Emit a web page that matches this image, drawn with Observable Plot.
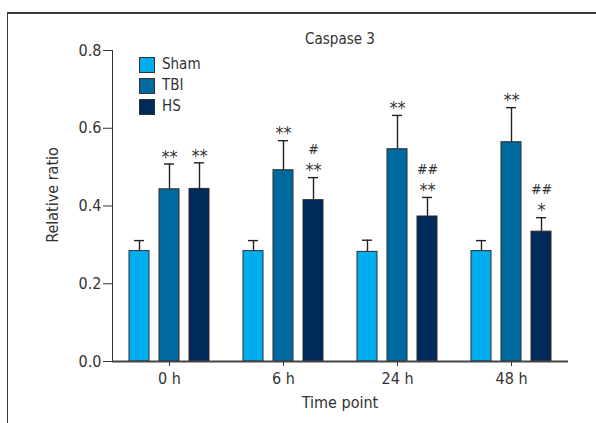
<!DOCTYPE html>
<html><head><meta charset="utf-8">
<script src="https://cdn.jsdelivr.net/npm/d3@7"></script>
<script src="https://cdn.jsdelivr.net/npm/@observablehq/plot@0.6"></script>
<style>
body{margin:0;background:#fff;}
#wrap{position:relative;width:596px;height:423px;overflow:hidden;background:#fff;font-family:"DejaVu Sans Condensed","Liberation Sans Narrow",sans-serif;color:#333;}
#wrap svg{position:absolute;left:0;top:0;}
.frameTop{position:absolute;left:7px;top:12px;width:589px;height:0;border-top:2px solid #3a3a3a;}
.frameLeft{position:absolute;left:7px;top:12px;width:0;height:411px;border-left:1.5px solid #3a3a3a;}
.txt{position:absolute;font-size:15px;line-height:1;white-space:nowrap;color:#333;}
.sw{position:absolute;width:14px;height:14px;border:1px solid #333;}
</style>
</head><body>
<div id="wrap">
  <div class="frameTop"></div>
  <div class="frameLeft"></div>
</div>
<script>
const times = ["0 h", "6 h", "24 h", "48 h"];
const groups = ["Sham", "TBI", "HS"];
const colors = ["#00aeef", "#006a9f", "#002a5a"];

const shamMean = [0.284, 0.284, 0.282, 0.284];
const shamSD   = [0.027, 0.027, 0.030, 0.027];
const tbiMean  = [0.443, 0.492, 0.546, 0.564];
const tbiSD    = [0.065, 0.076, 0.087, 0.089];
const hsMean   = [0.444, 0.415, 0.373, 0.334];
const hsSD     = [0.067, 0.058, 0.049, 0.036];

const shamStar = ["", "", "", ""];
const tbiStar  = ["**", "**", "**", "**"];
const hsStar   = ["**", "**", "**", "*"];
const shamHash = ["", "", "", ""];
const tbiHash  = ["", "", "", ""];
const hsHash   = ["", "#", "##", "##"];

const yTicks = [0, 0.2, 0.4, 0.6, 0.8];

const means = [shamMean, tbiMean, hsMean];
const sds = [shamSD, tbiSD, hsSD];
const stars = [shamStar, tbiStar, hsStar];
const hashes = [shamHash, tbiHash, hsHash];

const rows = [];
groups.forEach((g, gi) => times.forEach((t, ti) => rows.push({
  time: t, group: g, mean: means[gi][ti], top: means[gi][ti] + sds[gi][ti],
  star: stars[gi][ti], hash: hashes[gi][ti]
})));

const chart = Plot.plot({
  width: 596, height: 423,
  marginLeft: 112, marginRight: 28, marginTop: 50, marginBottom: 62,
  style: {fontFamily: '"DejaVu Sans Condensed","Liberation Sans Narrow",sans-serif', fontSize: "16px", color: "#333", background: "transparent"},
  fx: {domain: times, padding: 0, label: null, tickSize: 5, tickPadding: 6, axis: "bottom"},
  x: {domain: groups, axis: null, paddingInner: 0.344, paddingOuter: 0.54},
  y: {domain: [0, 0.8], ticks: yTicks, tickFormat: d3.format(".1f"), label: null, line: true, tickSize: 9, tickPadding: 2},
  color: {domain: groups, range: colors},
  marks: [
    Plot.ruleX(rows, {fx: "time", x: "group", y1: "mean", y2: "top", stroke: "#222", strokeWidth: 1.4}),
    Plot.tickY(rows, {fx: "time", x: "group", y: "top", stroke: "#222", strokeWidth: 1.4, insetLeft: 5, insetRight: 5}),
    Plot.barY(rows, {fx: "time", x: "group", y: "mean", fill: "group", stroke: "#2a2a2a", strokeWidth: 1}),
    Plot.text(rows, {fx: "time", x: "group", y: "top", text: "star", dy: -7, fontSize: 18, fill: "#333"}),
    Plot.text(rows, {fx: "time", x: "group", y: "top", text: "hash", dy: -28, fontSize: 14, fill: "#333"}),
    Plot.ruleY([0], {stroke: "#444", strokeWidth: 2})
  ]
});
const wrap = document.getElementById("wrap");
wrap.insertBefore(chart, wrap.firstChild);

function addText(str, left, top, extra) {
  const d = document.createElement("div");
  d.className = "txt";
  d.textContent = str;
  d.style.left = left + "px";
  d.style.top = top + "px";
  if (extra) Object.assign(d.style, extra);
  wrap.appendChild(d);
  return d;
}
// title
addText("Caspase 3", 340, 32, {transform: "translateX(-50%)", fontSize: "15px"});
// x label
addText("Time point", 340, 395, {transform: "translateX(-50%)", fontSize: "16px"});
// y label
addText("Relative ratio", 53, 195, {transform: "translate(-50%,-50%) rotate(-90deg)", fontSize: "16px"});
// legend
groups.forEach((g, i) => {
  const s = document.createElement("div");
  s.className = "sw";
  s.style.left = "139px";
  s.style.top = (57 + i * 21) + "px";
  s.style.background = colors[i];
  wrap.appendChild(s);
  addText(g, 162, 57 + i * 21);
});
</script>
</body></html>
